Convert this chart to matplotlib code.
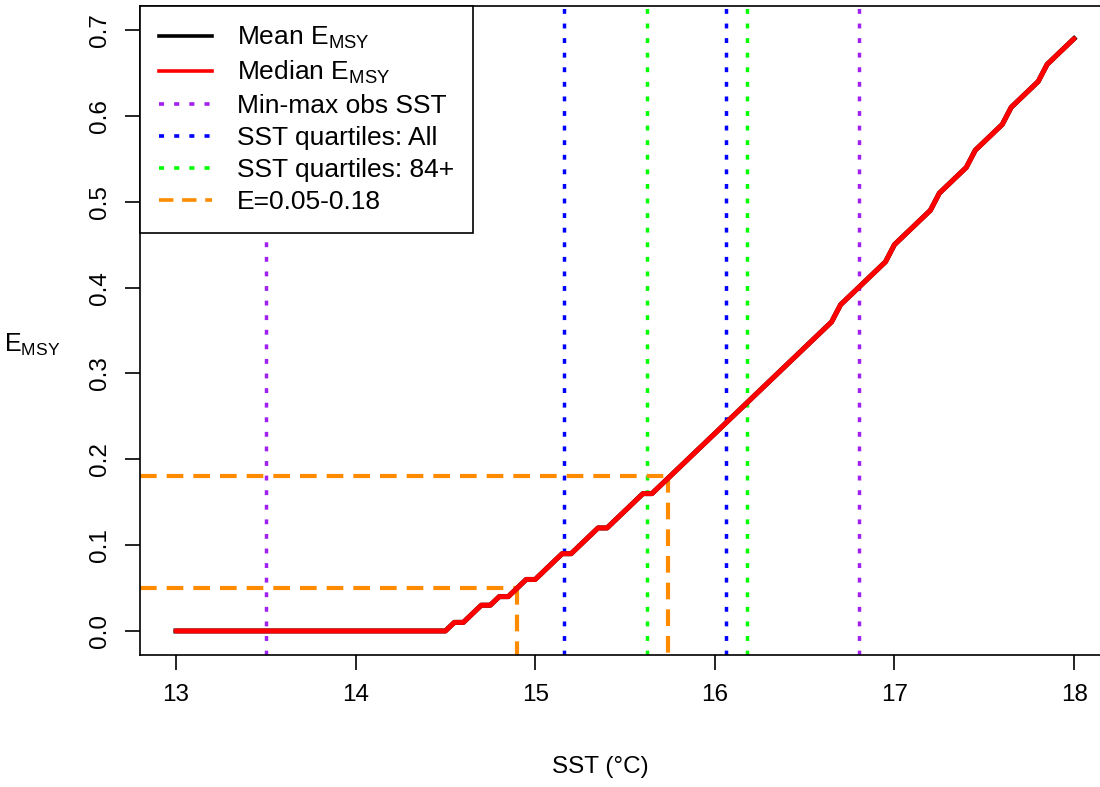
import matplotlib
matplotlib.use("Agg")
import matplotlib.pyplot as plt
from matplotlib.lines import Line2D

plt.rcParams['font.family'] = ['Liberation Sans', 'DejaVu Sans']
plt.rcParams['mathtext.fontset'] = 'custom'
plt.rcParams['mathtext.rm'] = 'Liberation Sans'
plt.rcParams['mathtext.it'] = 'Liberation Sans'

# E_MSY against SST (median and mean overlap)
sst = [13.0, 14.5, 14.55, 14.6, 14.65, 14.7, 14.75, 14.8, 14.85, 14.9, 14.95,
       15.0, 15.05, 15.1, 15.15, 15.2, 15.25, 15.3, 15.35, 15.4, 15.45,
       15.5, 15.55, 15.6, 15.65, 15.7, 15.75, 15.8, 15.85, 15.9, 15.95,
       16.0, 16.05, 16.1, 16.15, 16.2, 16.25, 16.3, 16.35, 16.4, 16.45,
       16.5, 16.55, 16.6, 16.65, 16.7, 16.75, 16.8, 16.85, 16.9, 16.95,
       17.0, 17.05, 17.1, 17.15, 17.2, 17.25, 17.3, 17.35, 17.4, 17.45,
       17.5, 17.55, 17.6, 17.65, 17.7, 17.75, 17.8, 17.85, 17.9, 17.95, 18.0]
emsy_median = [0.0, 0.0, 0.01, 0.01, 0.02, 0.03, 0.03, 0.04, 0.04, 0.05, 0.06,
               0.06, 0.07, 0.08, 0.09, 0.09, 0.10, 0.11, 0.12, 0.12, 0.13,
               0.14, 0.15, 0.16, 0.16, 0.17, 0.18, 0.19, 0.20, 0.21, 0.22,
               0.23, 0.24, 0.25, 0.26, 0.27, 0.28, 0.29, 0.30, 0.31, 0.32,
               0.33, 0.34, 0.35, 0.36, 0.38, 0.39, 0.40, 0.41, 0.42, 0.43,
               0.45, 0.46, 0.47, 0.48, 0.49, 0.51, 0.52, 0.53, 0.54, 0.56,
               0.57, 0.58, 0.59, 0.61, 0.62, 0.63, 0.64, 0.66, 0.67, 0.68, 0.69]
emsy_mean = list(emsy_median)

sst_minmax = [13.5, 16.8]
sst_quart_all = [15.16, 16.06]
sst_quart_84 = [15.62, 16.18]
e_range = [0.05, 0.18]
sst_at_e = [14.9, 15.74]

xticks = [13, 14, 15, 16, 17, 18]
yticks = [0.0, 0.1, 0.2, 0.3, 0.4, 0.5, 0.6, 0.7]

fig = plt.figure(figsize=(11, 7.87), dpi=100)
ax = fig.add_axes([140/1100, 132/787, 970/1100, 649/787])
xlim = (12.8, 18.2)
ylim = (-0.028, 0.728)

dot = (0, (1.4, 2.8))
dash = (0, (4.0, 2.4))

for x in sst_minmax:
    ax.axvline(x, color='#A020F0', lw=2.5, ls=dot)
for x in sst_quart_all:
    ax.axvline(x, color='#0000FF', lw=2.5, ls=dot)
for x in sst_quart_84:
    ax.axvline(x, color='#00FF00', lw=2.5, ls=dot)

for e, x in zip(e_range, sst_at_e):
    ax.plot([xlim[0], x], [e, e], color='#FF8C00', lw=3.0, ls=dash)
    ax.plot([x, x], [e, ylim[0]], color='#FF8C00', lw=3.0, ls=dash)

ax.plot(sst, emsy_mean, color='black', lw=3.6)
ax.plot(sst, emsy_median, color='#FF0000', lw=3.6, solid_capstyle='round',
        solid_joinstyle='round')

ax.set_xlim(*xlim)
ax.set_ylim(*ylim)
ax.set_xticks(xticks)
ax.set_xticklabels([str(t) for t in xticks])
ax.set_yticks(yticks)
ax.set_yticklabels(['%.1f' % t for t in yticks], rotation=90, va='center')
ax.tick_params(axis='both', length=11, width=1.2, labelsize=17.5, pad=10)
for s in ax.spines.values():
    s.set_linewidth(1.2)

fig.text(600/1100, 1 - 767/787, 'SST (°C)', ha='center', va='center', fontsize=17.5)
fig.text(32/1100, 1 - 345/787, r'E$_{\mathrm{MSY}}$', ha='center', va='center', fontsize=18)

handles = [
    Line2D([], [], color='black', lw=2.6),
    Line2D([], [], color='#FF0000', lw=2.6),
    Line2D([], [], color='#A020F0', lw=2.6, ls=dot),
    Line2D([], [], color='#0000FF', lw=2.6, ls=dot),
    Line2D([], [], color='#00FF00', lw=2.6, ls=dot),
    Line2D([], [], color='#FF8C00', lw=2.6, ls=dash),
]
labels = [r'Mean E$_{\mathrm{MSY}}$', r'Median E$_{\mathrm{MSY}}$', 'Min-max obs SST',
          'SST quartiles: All', 'SST quartiles: 84+', 'E=0.05-0.18']
leg = ax.legend(handles, labels, loc='upper left', bbox_to_anchor=(0, 1),
                borderaxespad=0, fontsize=19, frameon=True, fancybox=False,
                handlelength=2.0, handletextpad=0.95, labelspacing=0.3,
                borderpad=0.72, framealpha=1)
leg.get_frame().set_edgecolor('black')
leg.get_frame().set_linewidth(1.2)

fig.savefig('out.png', dpi=100)
